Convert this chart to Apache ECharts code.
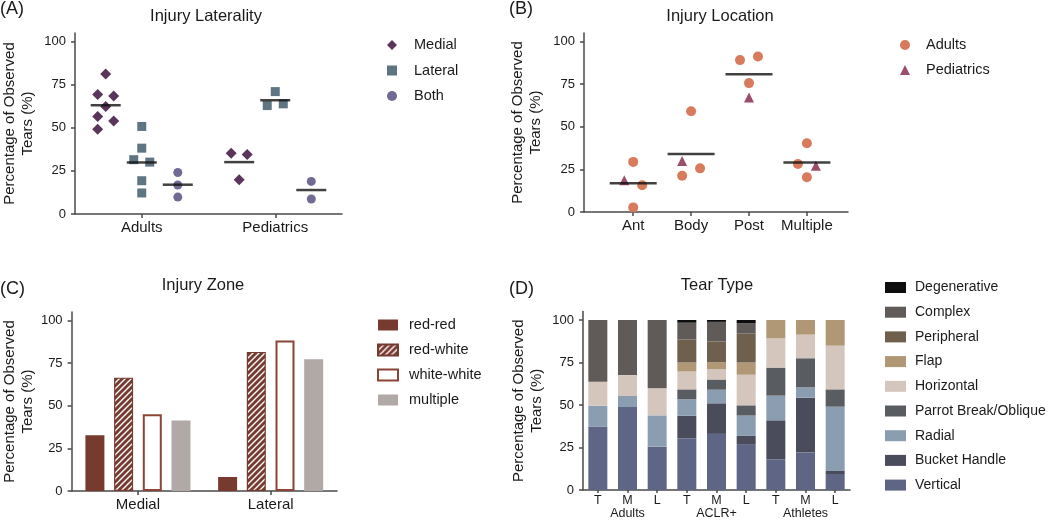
<!DOCTYPE html>
<html><head><meta charset="utf-8">
<script src="https://cdn.jsdelivr.net/npm/echarts@6/dist/echarts.min.js"></script>
<style>html,body{margin:0;padding:0;background:#fff}#c{width:1050px;height:524px}</style>
</head><body><div id="c"></div>
<script>
// ---------- Panel A: Injury Laterality ----------
const lateralityGroups = ['Adults', 'Pediatrics'];
const lateralityTypes = ['Medial', 'Lateral', 'Both'];
const adultsMedial = [81.2, 69.3, 68.5, 62.3, 56.5, 54.0, 49.2];
const adultsMedialSlot = [0, -1, 1, 0, -1, 1, -1];
const adultsLateral = [50.8, 38.2, 31.5, 30.1, 19.3, 12.2];
const adultsLateralSlot = [0, 0, -1, 1, 0, 0];
const adultsBoth = [24.1, 16.8, 9.8];
const adultsBothSlot = [0, 0, 0];
const pedsMedial = [35.3, 34.5, 19.9];
const pedsMedialSlot = [-1, 1, 0];
const pedsLateral = [71.0, 62.9, 63.9];
const pedsLateralSlot = [0, -1, 1];
const pedsBoth = [18.9, 8.7];
const pedsBothSlot = [0, 0];
const lateralityMeansAdults = [63.1, 29.9, 17.0];
const lateralityMeansPeds = [30.1, 66.0, 13.9];

// ---------- Panel B: Injury Location ----------
const locationCats = ['Ant', 'Body', 'Post', 'Multiple'];
const locAdultsAnt = [29.4, 15.7, 2.7];
const locAdultsAntSlot = [0, 1, 0];
const locAdultsBody = [59.1, 21.3, 25.6];
const locAdultsBodySlot = [0, -1, 1];
const locAdultsPost = [89.1, 91.2, 75.6];
const locAdultsPostSlot = [-1, 1, 0];
const locAdultsMultiple = [40.3, 28.2, 20.4];
const locAdultsMultipleSlot = [0, -1, 0];
const locPeds = [18.6, 29.9, 67.1, 27.2];
const locPedsSlot = [-1, -1, 0, 1];
const locMeans = [16.8, 34.0, 80.8, 29.0];

// ---------- Panel C: Injury Zone ----------
const zoneCats = ['Medial', 'Lateral'];
const zoneRedRed = [32.7, 8.2];
const zoneRedWhite = [66.5, 81.6];
const zoneWhiteWhite = [45.0, 88.3];
const zoneMultiple = [41.3, 77.3];

// ---------- Panel D: Tear Type ----------
const tearGroups = ['Adults', 'ACLR+', 'Athletes'];
const tearSites = ['T', 'M', 'L'];
const tearVertical = [37.3, 48.8, 25.5, 30.5, 33.0, 27.0, 18.0, 22.0, 9.4];
const tearBucket = [0, 0, 0, 13.2, 18.0, 4.8, 23.0, 32.3, 1.8];
const tearRadial = [12.3, 6.5, 18.4, 9.7, 8.0, 12.0, 14.5, 6.1, 37.8];
const tearParrot = [0, 0, 0, 5.8, 6.0, 6.0, 16.5, 17.1, 10.2];
const tearHorizontal = [14.1, 12.3, 15.9, 10.5, 6.0, 18.0, 17.2, 13.9, 25.7];
const tearFlap = [0, 0, 0, 5.3, 4.2, 7.2, 10.8, 8.6, 15.1];
const tearPeripheral = [0, 0, 0, 13.6, 12.2, 17.0, 0, 0, 0];
const tearComplex = [36.3, 32.4, 40.2, 9.8, 11.5, 6.0, 0, 0, 0];
const tearDegenerative = [0, 0, 0, 1.6, 1.1, 2.0, 0, 0, 0];

const yTicks = [0, 25, 50, 75, 100];

// ---------- styling ----------
const FONT = '"Liberation Sans", Arial, Helvetica, sans-serif';
const TXT = '#1a1a1a';
const AX = '#4a4a4a';
const BRICK = '#773a2e';

const chart = echarts.init(document.getElementById('c'), null, {renderer: 'canvas'});

function hatch() {
  const c = document.createElement('canvas');
  c.width = c.height = 6;
  const g = c.getContext('2d');
  g.fillStyle = BRICK; g.fillRect(0, 0, 6, 6);
  g.strokeStyle = '#ffffff'; g.lineWidth = 1.4;
  g.beginPath();
  g.moveTo(0, 6); g.lineTo(6, 0);
  g.moveTo(-1, 1); g.lineTo(1, -1);
  g.moveTo(5, 7); g.lineTo(7, 5);
  g.stroke();
  return c;
}

function yAxisCfg(grid, gap) {
  return {
    gridIndex: grid, type: 'value', min: 0, max: 105,
    name: 'Percentage of Observed\nTears (%)', nameLocation: 'middle', nameGap: gap, nameRotate: 90,
    nameTextStyle: {fontFamily: FONT, fontSize: 15, color: TXT, lineHeight: 18},
    axisLine: {show: true, lineStyle: {color: AX, width: 1.5}},
    axisTick: {show: true, length: 4, customValues: yTicks, lineStyle: {color: AX, width: 1.5}},
    axisLabel: {customValues: yTicks, fontFamily: FONT, fontSize: 13, color: TXT, margin: 9},
    splitLine: {show: false}
  };
}

// positions within panels (layout, not data)
const A_OFF = [-0.27, 0, 0.27];
const A_JIT = 0.06;
const B_JIT = 0.155;

function ptsA(vals, slots, groupIdx, typeIdx) {
  return vals.map((v, i) => [groupIdx + 0.5 + A_OFF[typeIdx] + slots[i] * A_JIT, v]);
}
function ptsB(vals, slots, catIdx) {
  return vals.map((v, i) => [catIdx + 1 + slots[i] * B_JIT, v]);
}

const colA = ['#5a3459', '#5f7582', '#706a95'];
const symA = ['diamond', 'rect', 'circle'];
const sizeA = [11, 9, 9];
const adultsA = [[adultsMedial, adultsMedialSlot], [adultsLateral, adultsLateralSlot], [adultsBoth, adultsBothSlot]];
const pedsA = [[pedsMedial, pedsMedialSlot], [pedsLateral, pedsLateralSlot], [pedsBoth, pedsBothSlot]];

const series = [];
lateralityTypes.forEach((t, k) => {
  series.push({
    name: t, type: 'scatter', xAxisIndex: 0, yAxisIndex: 0,
    symbol: symA[k], symbolSize: sizeA[k], itemStyle: {color: colA[k], opacity: 1},
    data: ptsA(adultsA[k][0], adultsA[k][1], 0, k).concat(ptsA(pedsA[k][0], pedsA[k][1], 1, k))
  });
});
series.push({
  name: 'meanA', type: 'scatter', xAxisIndex: 0, yAxisIndex: 0, z: 5,
  symbol: 'rect', symbolSize: [30, 2.5], itemStyle: {color: '#111'},
  data: lateralityMeansAdults.map((m, k) => [0.5 + A_OFF[k], m])
    .concat(lateralityMeansPeds.map((m, k) => [1.5 + A_OFF[k], m]))
});

// Panel B
const locAdultSets = [[locAdultsAnt, locAdultsAntSlot], [locAdultsBody, locAdultsBodySlot],
  [locAdultsPost, locAdultsPostSlot], [locAdultsMultiple, locAdultsMultipleSlot]];
series.push({
  name: 'Adults', type: 'scatter', xAxisIndex: 1, yAxisIndex: 1,
  symbol: 'circle', symbolSize: 10, itemStyle: {color: '#d87a5c', opacity: 1},
  data: locAdultSets.flatMap((s, c) => ptsB(s[0], s[1], c))
});
series.push({
  name: 'Pediatrics', type: 'scatter', xAxisIndex: 1, yAxisIndex: 1,
  symbol: 'triangle', symbolSize: 10, itemStyle: {color: '#9a4d6c', opacity: 1},
  data: locPeds.map((v, c) => [c + 1 + locPedsSlot[c] * B_JIT, v])
});
series.push({
  name: 'meanB', type: 'scatter', xAxisIndex: 1, yAxisIndex: 1, z: 5,
  symbol: 'rect', symbolSize: [47, 2.5], itemStyle: {color: '#111'},
  data: locMeans.map((m, c) => [c + 1, m])
});

// Panel C
const zoneSeries = [
  ['red-red', zoneRedRed, {color: BRICK}],
  ['red-white', zoneRedWhite, {color: {image: hatch(), repeat: 'repeat'}, borderColor: BRICK, borderWidth: 1.2}],
  ['white-white', zoneWhiteWhite, {color: '#ffffff', borderColor: '#8a4536', borderWidth: 2}],
  ['multiple', zoneMultiple, {color: '#b1a9a6'}]
];
zoneSeries.forEach(z => series.push({
  name: z[0], type: 'bar', xAxisIndex: 2, yAxisIndex: 2,
  barWidth: 19, barGap: '51%', itemStyle: z[2], data: z[1]
}));

// Panel D
const tearSeries = [
  ['Vertical', tearVertical, '#5e6585'],
  ['Bucket Handle', tearBucket, '#4a4c5c'],
  ['Radial', tearRadial, '#8b9eb1'],
  ['Parrot Break/Oblique', tearParrot, '#595c61'],
  ['Horizontal', tearHorizontal, '#d4c6bd'],
  ['Flap', tearFlap, '#b09876'],
  ['Peripheral', tearPeripheral, '#6f5f4d'],
  ['Complex', tearComplex, '#605b58'],
  ['Degenerative', tearDegenerative, '#0d0d0d']
];
tearSeries.forEach(s => series.push({
  name: s[0], type: 'bar', stack: 'tear', xAxisIndex: 3, yAxisIndex: 3,
  barWidth: 19, itemStyle: {color: s[2]}, data: s[1]
}));

const tearCats = tearGroups.flatMap(g => tearSites.map(s => g + '|' + s));

const legendText = (pad, fs) => ({fontFamily: FONT, fontSize: fs, color: TXT, lineHeight: 16, padding: [0, 0, 0, pad]});

const option = {
  animation: false,
  backgroundColor: '#ffffff',
  textStyle: {fontFamily: FONT},
  grid: [
    {left: 70, top: 33, width: 272, height: 181},
    {left: 584, top: 33, width: 264, height: 179},
    {left: 65, top: 312, width: 272, height: 179},
    {left: 583, top: 311.5, width: 267, height: 178.5}
  ],
  xAxis: [
    {gridIndex: 0, type: 'value', min: 0, max: 2,
      axisLine: {show: true, onZero: false, lineStyle: {color: AX, width: 1.5}},
      axisTick: {show: true, length: 4, customValues: [0.5, 1.5], lineStyle: {color: AX, width: 1.5}},
      axisLabel: {customValues: [0.5, 1.5], formatter: v => lateralityGroups[Math.floor(v)],
        fontFamily: FONT, fontSize: 15, color: TXT, margin: 6},
      splitLine: {show: false}},
    {gridIndex: 1, type: 'value', min: 0.15, max: 4.71,
      axisLine: {show: true, onZero: false, lineStyle: {color: AX, width: 1.5}},
      axisTick: {show: true, length: 4, customValues: [1, 2, 3, 4], lineStyle: {color: AX, width: 1.5}},
      axisLabel: {customValues: [1, 2, 3, 4], formatter: v => locationCats[Math.round(v) - 1],
        fontFamily: FONT, fontSize: 15, color: TXT, margin: 6},
      splitLine: {show: false}},
    {gridIndex: 2, type: 'category', data: zoneCats,
      axisLine: {show: true, lineStyle: {color: AX, width: 1.5}},
      axisTick: {show: true, alignWithLabel: true, length: 4, lineStyle: {color: AX, width: 1.5}},
      axisLabel: {fontFamily: FONT, fontSize: 15, color: TXT, margin: 6}},
    {gridIndex: 3, type: 'category', data: tearCats,
      axisLine: {show: true, lineStyle: {color: AX, width: 1.5}},
      axisTick: {show: true, alignWithLabel: true, length: 3, lineStyle: {color: AX, width: 1.5}},
      axisLabel: {formatter: v => v.split('|')[1], fontFamily: FONT, fontSize: 12.5, color: TXT, margin: 4}},
    {gridIndex: 3, type: 'category', data: tearGroups, position: 'bottom', offset: 0,
      axisLine: {show: false}, axisTick: {show: false},
      axisLabel: {fontFamily: FONT, fontSize: 12.5, color: TXT, margin: 17}}
  ],
  yAxis: [yAxisCfg(0, 38), yAxisCfg(1, 39), yAxisCfg(2, 33), yAxisCfg(3, 37)],
  legend: [
    {data: lateralityTypes, orient: 'vertical', left: 387, top: 37, padding: 0, itemWidth: 10, itemHeight: 10,
      itemGap: 9.5, textStyle: legendText(12, 14.5)},
    {data: ['Adults', 'Pediatrics'], orient: 'vertical', left: 900, top: 37, padding: 0, itemWidth: 10, itemHeight: 10,
      itemGap: 9, textStyle: legendText(11, 14.5)},
    {data: zoneSeries.map(z => z[0]), orient: 'vertical', left: 377, top: 317, padding: 0, itemWidth: 20, itemHeight: 11,
      itemGap: 9, icon: 'rect', textStyle: legendText(6, 14.5)},
    {data: tearSeries.map(s => s[0]).reverse(), orient: 'vertical', left: 885, top: 279.5, padding: 0, itemWidth: 21, itemHeight: 11,
      itemGap: 8.7, icon: 'rect', textStyle: legendText(4, 14)}
  ],
  graphic: [
    {type: 'text', left: 0, top: 0, style: {text: '(A)', font: '18px ' + FONT, fill: TXT}},
    {type: 'text', left: 509, top: 0, style: {text: '(B)', font: '18px ' + FONT, fill: TXT}},
    {type: 'text', left: 0, top: 280, style: {text: '(C)', font: '18px ' + FONT, fill: TXT}},
    {type: 'text', left: 509, top: 280, style: {text: '(D)', font: '18px ' + FONT, fill: TXT}},
    {type: 'text', x: 206, y: 16, style: {text: 'Injury Laterality', font: '16.5px ' + FONT, fill: TXT,
      textAlign: 'center', textVerticalAlign: 'middle', align: 'center', verticalAlign: 'middle'}},
    {type: 'text', x: 720, y: 16, style: {text: 'Injury Location', font: '16.5px ' + FONT, fill: TXT,
      textAlign: 'center', textVerticalAlign: 'middle', align: 'center', verticalAlign: 'middle'}},
    {type: 'text', x: 203, y: 285, style: {text: 'Injury Zone', font: '16.5px ' + FONT, fill: TXT,
      textAlign: 'center', textVerticalAlign: 'middle', align: 'center', verticalAlign: 'middle'}},
    {type: 'text', x: 717, y: 285, style: {text: 'Tear Type', font: '16.5px ' + FONT, fill: TXT,
      textAlign: 'center', textVerticalAlign: 'middle', align: 'center', verticalAlign: 'middle'}}
  ],
  series: series
};
chart.setOption(option);
</script>
</body></html>
